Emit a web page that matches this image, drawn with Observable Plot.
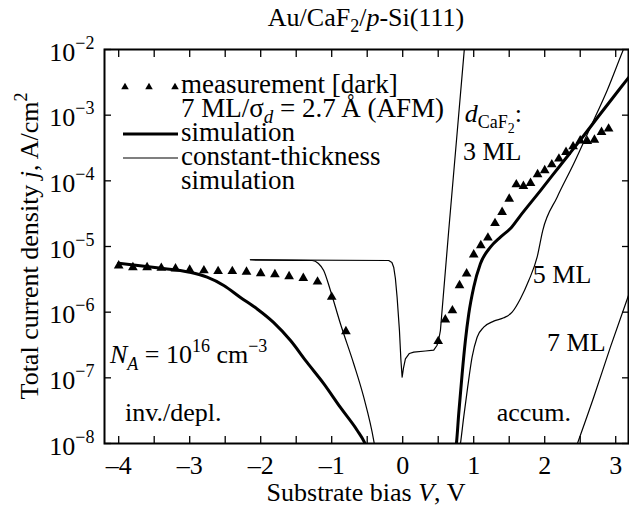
<!DOCTYPE html>
<html>
<head>
<meta charset="utf-8">
<script src="https://cdn.jsdelivr.net/npm/d3@7"></script>
<script src="https://cdn.jsdelivr.net/npm/@observablehq/plot@0.6"></script>
<style>
  html, body { margin: 0; padding: 0; background: #fff; }
  #chart svg { display: block; }
</style>
</head>
<body>
<div id="chart"></div>
<script>
// ---------------- data ----------------
// measurement [dark], 7 ML / sigma_d = 2.7 A
const measRevV = [-4.0, -3.8, -3.6, -3.4, -3.2, -3.0, -2.8, -2.6, -2.4, -2.2, -2.0, -1.8, -1.6, -1.4, -1.2, -1.0, -0.8];
const measRevJ = [5.1e-6, 4.8e-6, 4.8e-6, 4.7e-6, 4.6e-6, 4.4e-6, 4.3e-6, 4.2e-6, 4.2e-6, 4.1e-6, 3.9e-6, 3.75e-6, 3.5e-6, 3.3e-6, 2.9e-6, 1.7e-6, 5.1e-7];
const measFwdV = [0.5, 0.6, 0.7, 0.8, 0.9, 1.0, 1.1, 1.2, 1.3, 1.4, 1.5, 1.6, 1.7, 1.8, 1.9, 2.0, 2.1, 2.2, 2.3, 2.4, 2.5, 2.6, 2.7, 2.8, 2.9];
const measFwdJ = [3.6e-7, 7.7e-7, 1.06e-6, 2.55e-6, 3.85e-6, 7.5e-6, 1.04e-5, 1.36e-5, 2.26e-5, 3.33e-5, 5.3e-5, 8.8e-5, 8.3e-5, 9.2e-5, 1.25e-4, 1.44e-4, 1.77e-4, 2.17e-4, 2.73e-4, 3.33e-4, 4.1e-4, 4.0e-4, 4.2e-4, 5.5e-4, 6.2e-4];

// simulation (thick)
const simRevV = [-4.0, -3.46, -3.0, -2.755, -2.52, -2.29, -2.05, -1.82, -1.58, -1.35, -1.11, -0.88, -0.64, -0.54, -0.50];
const simRevJ = [5.57e-6, 4.74e-6, 4.06e-6, 3.41e-6, 2.55e-6, 1.69e-6, 1.12e-6, 7.0e-7, 3.7e-7, 1.73e-7, 8.1e-8, 3.57e-8, 1.58e-8, 1.05e-8, 8.3e-9];
const simFwdV = [0.742, 0.756, 0.789, 0.837, 0.883, 0.930, 1.0, 1.094, 1.235, 1.376, 1.517, 1.658, 1.94, 2.221, 2.503, 2.785, 3.066, 3.193];
const simFwdJ = [7.8e-9, 9.9e-9, 2.84e-8, 1.15e-7, 3.71e-7, 9.4e-7, 2.40e-6, 5.45e-6, 9.8e-6, 1.39e-5, 1.88e-5, 2.96e-5, 7.1e-5, 1.73e-4, 4.2e-4, 1.05e-3, 2.59e-3, 3.87e-3];

// constant-thickness simulations (thin)
const ct3V = [-2.145, -0.197, -0.152, -0.127, -0.103, -0.079, -0.046, -0.025, -0.008, 0.01, 0.038, 0.094, 0.155, 0.32, 0.437, 0.482, 0.510, 0.531, 0.648, 0.756, 0.876];
const ct3J = [6.28e-6, 6.12e-6, 5.71e-6, 4.84e-6, 3.26e-6, 1.69e-6, 5.26e-7, 1.84e-7, 1.02e-7, 1.39e-7, 1.95e-7, 2.35e-7, 2.46e-7, 2.56e-7, 2.65e-7, 3.11e-7, 3.97e-7, 5.26e-7, 1.75e-5, 3.97e-4, 1.28e-2];
const ct5RevV = [-2.145, -1.276, -1.187, -1.113, -1.018, -0.877, -0.690, -0.549, -0.408, -0.384];
const ct5RevJ = [6.28e-6, 6.12e-6, 5.51e-6, 4.32e-6, 2.14e-6, 6.65e-7, 1.64e-7, 5.07e-8, 1.11e-8, 7.8e-9];
const ct5FwdV = [0.799, 0.813, 0.859, 0.915, 0.977, 1.048, 1.141, 1.282, 1.423, 1.541, 1.658, 1.775, 1.893, 1.972, 2.175, 2.408, 2.644, 2.879, 3.113, 3.137];
const ct5FwdJ = [7.8e-9, 9.9e-9, 2.52e-8, 7.2e-8, 2.06e-7, 4.16e-7, 5.9e-7, 7.3e-7, 8.2e-7, 1.0e-6, 1.6e-6, 3.03e-6, 6.87e-6, 1.75e-5, 5.64e-5, 1.82e-4, 6.56e-4, 2.38e-3, 1.03e-2, 1.19e-2];
const ct7V = [2.425, 2.690, 2.925, 3.200];
const ct7J = [7.8e-9, 5.07e-8, 2.93e-7, 2.07e-6];

// ticks
const xTicks = [-4, -3, -2, -1, 0, 1, 2, 3];
const xMinorTicks = [-4, -3.5, -3, -2.5, -2, -1.5, -1, -0.5, 0, 0.5, 1, 1.5, 2, 2.5, 3];
const yTicks = [1e-8, 1e-7, 1e-6, 1e-5, 1e-4, 1e-3, 1e-2];

// ---------------- chart ----------------
const FONT = '"Liberation Serif", "Times New Roman", Times, serif';
const rows = (V, J, s) => V.map((v, i) => ({V: v, J: J[i], s}));
const thickRows = [...rows(simRevV, simRevJ, "rev"), ...rows(simFwdV, simFwdJ, "fwd")];
const thin3Rows = rows(ct3V, ct3J, "3ML");
const thinRows = [...rows(ct5RevV, ct5RevJ, "5MLr"), ...rows(ct5FwdV, ct5FwdJ, "5MLf"), ...rows(ct7V, ct7J, "7ML")];
const measRows = [...rows(measRevV, measRevJ, "rev"), ...rows(measFwdV, measFwdJ, "fwd")];
const fmtX = d => (d < 0 ? "\u2013" + (-d) : String(d));

const plot = Plot.plot({
  width: 629, height: 508,
  marginLeft: 104, marginRight: 1, marginTop: 49, marginBottom: 65,
  style: {fontFamily: FONT, fontSize: "26px", color: "#000", background: "#fff", overflow: "visible"},
  x: {domain: [-4.2, 3.18]},
  y: {type: "log", domain: [1e-8, 1e-2]},
  marks: [
    Plot.line(thin3Rows, {x: "V", y: "J", stroke: "#000", strokeWidth: 1.2, clip: true}),
    Plot.line(thinRows, {x: "V", y: "J", z: "s", curve: "monotone-x", stroke: "#000", strokeWidth: 1.2, clip: true}),
    Plot.line(thickRows, {x: "V", y: "J", z: "s", curve: "monotone-x", stroke: "#000", strokeWidth: 3, clip: true}),
    Plot.dot(measRows, {x: "V", y: "J", symbol: "triangle", r: 3.6, fill: "#000", stroke: "none"}),
    Plot.axisX(xMinorTicks, {anchor: "bottom", tickSize: -7, tickFormat: () => "", label: null, strokeWidth: 1.3}),
    Plot.axisX(xMinorTicks, {anchor: "top", tickSize: -7, tickFormat: () => "", label: null, strokeWidth: 1.3}),
    Plot.axisX(xTicks, {anchor: "bottom", tickSize: 0, tickPadding: 12, tickFormat: fmtX, label: null, fontSize: 26}),
    Plot.axisY(yTicks, {anchor: "left", tickSize: -7, tickFormat: () => "", label: null, strokeWidth: 1.3}),
    Plot.axisY(yTicks, {anchor: "right", tickSize: -7, tickFormat: () => "", label: null, strokeWidth: 1.3}),
    Plot.axisY(yTicks, {anchor: "left", tickSize: 0, tickPadding: 10, tickFormat: d => String(Math.round(Math.log10(d))), label: null, fontSize: 26}),
    Plot.frame({stroke: "#000", strokeWidth: 2})
  ]
});
document.getElementById("chart").appendChild(plot);

// ---------------- rich text (sub/superscripts, italics) ----------------
const svg = d3.select(plot);
const sx = plot.scale("x"), sy = plot.scale("y");

function rich(parent, x, y, parts, size = 26, anchor = "start", transform = null) {
  const t = parent.append("text").attr("x", x).attr("y", y)
    .attr("font-family", FONT).attr("font-size", size).attr("fill", "#000").attr("text-anchor", anchor);
  if (transform) t.attr("transform", transform);
  let cur = 0;
  for (const p of parts) {
    const o = typeof p === "string" ? {t: p} : p;
    const off = o.off || 0;
    const ts = t.append("tspan").text(o.t).attr("font-size", o.fs || size);
    if (off !== cur) ts.attr("dy", off - cur);
    cur = off;
    if (o.it) ts.attr("font-style", "italic");
  }
  return t;
}

// y tick labels: 10^n
svg.selectAll('g[aria-label="y-axis tick label"] text').each(function() {
  const s = this.textContent;
  if (!s) return;
  const n = +s;
  const t = d3.select(this);
  t.text("");
  t.append("tspan").attr("dy", 3).text("10");
  t.append("tspan").attr("dy", -12).attr("font-size", 18).text((n < 0 ? "\u2212" : "") + Math.abs(n));
});

const ann = svg.append("g").attr("class", "annotations");

// title and axis labels
rich(ann, 366, 26, ["Au/CaF", {t: "2", off: 6, fs: 18}, {t: "/", off: 0}, {t: "p", it: true}, "-Si(111)"], 26, "middle");
rich(ann, 366, 501, ["Substrate bias ", {t: "V", it: true}, ", V"], 26, "middle");
rich(ann, 0, 0, ["Total current density ", {t: "j", it: true}, ", A/cm", {t: "2", off: -11, fs: 18}], 26, "middle", "translate(38,246) rotate(-90)");

// legend (top-left inside frame)
const tri = d3.symbol(d3.symbolTriangle, Math.PI * 2.8 * 2.8);
for (const lx of [125, 149, 175]) ann.append("path").attr("d", tri()).attr("transform", `translate(${lx},87)`).attr("fill", "#000");
ann.append("line").attr("x1", 123).attr("x2", 178).attr("y1", 134).attr("y2", 134).attr("stroke", "#000").attr("stroke-width", 3);
ann.append("line").attr("x1", 123).attr("x2", 178).attr("y1", 158).attr("y2", 158).attr("stroke", "#000").attr("stroke-width", 1.2);
rich(ann, 181, 93, ["measurement [dark]"], 27);
rich(ann, 181, 117, ["7 ML/\u03c3", {t: "d", it: true, off: 6, fs: 19}, {t: " = 2.7\u2009\u00c5 (AFM)", off: 0}], 27);
rich(ann, 181, 141, ["simulation"], 27);
rich(ann, 181, 165, ["constant-thickness"], 27);
rich(ann, 181, 189, ["simulation"], 27);

// curve / region annotations (positioned in data coordinates)
rich(ann, sx.apply(0.88), sy.apply(7.8e-4), [{t: "d", it: true}, {t: "CaF", off: 6, fs: 18}, {t: "2", off: 11, fs: 14}, {t: ":", off: 0}]);
rich(ann, sx.apply(0.855), sy.apply(2.04e-4), ["3 ML"]);
rich(ann, sx.apply(1.84), sy.apply(2.74e-6), ["5 ML"]);
rich(ann, sx.apply(2.04), sy.apply(2.52e-7), ["7 ML"]);
rich(ann, sx.apply(1.33), sy.apply(2.16e-8), ["accum."]);
rich(ann, sx.apply(-3.904), sy.apply(2.16e-8), ["inv./depl."]);
rich(ann, sx.apply(-4.117), sy.apply(1.66e-7), [{t: "N", it: true}, {t: "A", it: true, off: 7, fs: 18}, {t: " = 10", off: 0}, {t: "16", off: -11, fs: 18}, {t: " cm", off: 0}, {t: "\u22123", off: -11, fs: 18}]);
</script>
</body>
</html>
